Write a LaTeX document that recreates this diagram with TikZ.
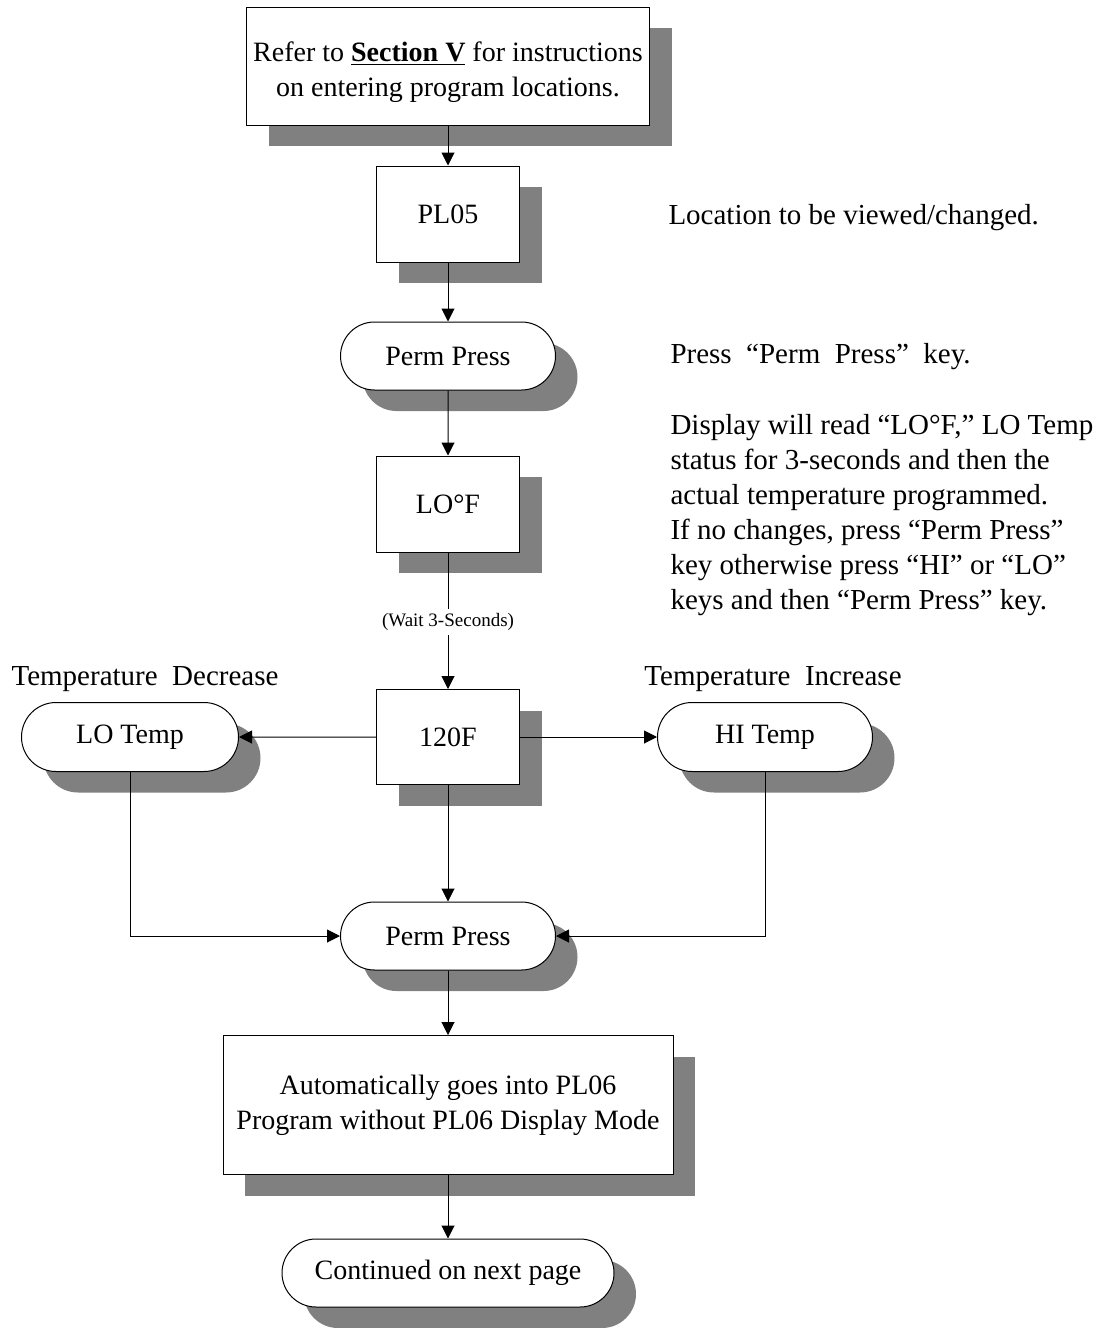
\documentclass[tikz,border=0pt]{standalone}
\usepackage{fontspec}
\setmainfont{Liberation Serif}
\usetikzlibrary{arrows.meta,shapes.misc,shadows}
\definecolor{shadowgray}{HTML}{808080}
\begin{document}
\begin{tikzpicture}[x=1pt,y=-1pt,line width=1pt,
  font=\fontsize{28}{35}\selectfont,
  >={Triangle[length=13pt,width=13pt]},
  sh/.style={drop shadow={shadow xshift=22pt,shadow yshift=-21pt,opacity=1,fill=shadowgray}},
  box/.style={draw,fill=white,sh,inner sep=0pt,align=center,minimum width=143pt,minimum height=96pt},
  pill/.style={draw,fill=white,sh,rounded rectangle,inner sep=0pt,minimum width=215pt,minimum height=68pt},
  note/.style={anchor=west,align=left,inner sep=0pt,font=\fontsize{29}{35}\selectfont}]
\useasboundingbox (0,0) rectangle (1105,1328);
\node[box, minimum width=403pt, minimum height=118pt] (refer) at (448,66) {\rule{0pt}{33pt}Refer to \textbf{\underline{Section V}} for instructions\\on entering program locations.};
\node[box] (pl05) at (448,214) {PL05};
\node[pill] (perm1) at (448,356) {Perm Press};
\node[box] (lof) at (448,504) {LO°F};
\node[inner sep=4pt, font=\fontsize{19}{23}\selectfont] (wait) at (448,622) {(Wait 3-Seconds)};
\node[box, minimum height=95pt] (t120) at (448,737) {120F};
\node[pill, minimum width=217pt, minimum height=69pt] (lotemp) at (130,737) {LO Temp};
\node[pill, minimum height=69pt] (hitemp) at (765,737) {HI Temp};
\node[pill] (perm2) at (448,936) {Perm Press};
\node[box, minimum width=450pt, minimum height=139pt] (auto) at (448,1105) {Automatically goes into PL06\\Program without PL06 Display Mode};
\node[pill, minimum width=332pt] (cont) at (448,1273) {Continued on next page};
\node[font=\fontsize{29}{35}\selectfont] (decr) at (145,679) {Temperature\ \ Decrease};
\node[font=\fontsize{29}{35}\selectfont] (incr) at (773,679) {Temperature\ \ Increase};
\node[note] (loc) at (668,218) {Location to be viewed/changed.};
\node[note] (press) at (670,357) {Press\ \ “Perm\ \ Press”\ \ key.};
\node[note] (disp) at (670,515) {Display will read “LO°F,” LO Temp\\status for 3-seconds and then the\\actual temperature programmed.\\If no changes, press “Perm Press”\\key otherwise press “HI” or “LO”\\keys and then “Perm Press” key.};
\draw[->](refer) -- (pl05);
\draw[->](pl05) -- (perm1);
\draw[->](perm1) -- (lof);
\draw[](lof) -- (wait);
\draw[->](wait) -- (t120);
\draw[->](t120) -- (lotemp);
\draw[->](t120) -- (hitemp);
\draw[->](t120) -- (perm2);
\draw[->](lotemp) |- (perm2);
\draw[->](hitemp) |- (perm2);
\draw[->](perm2) -- (auto);
\draw[->](auto) -- (cont);
\end{tikzpicture}
\end{document}
